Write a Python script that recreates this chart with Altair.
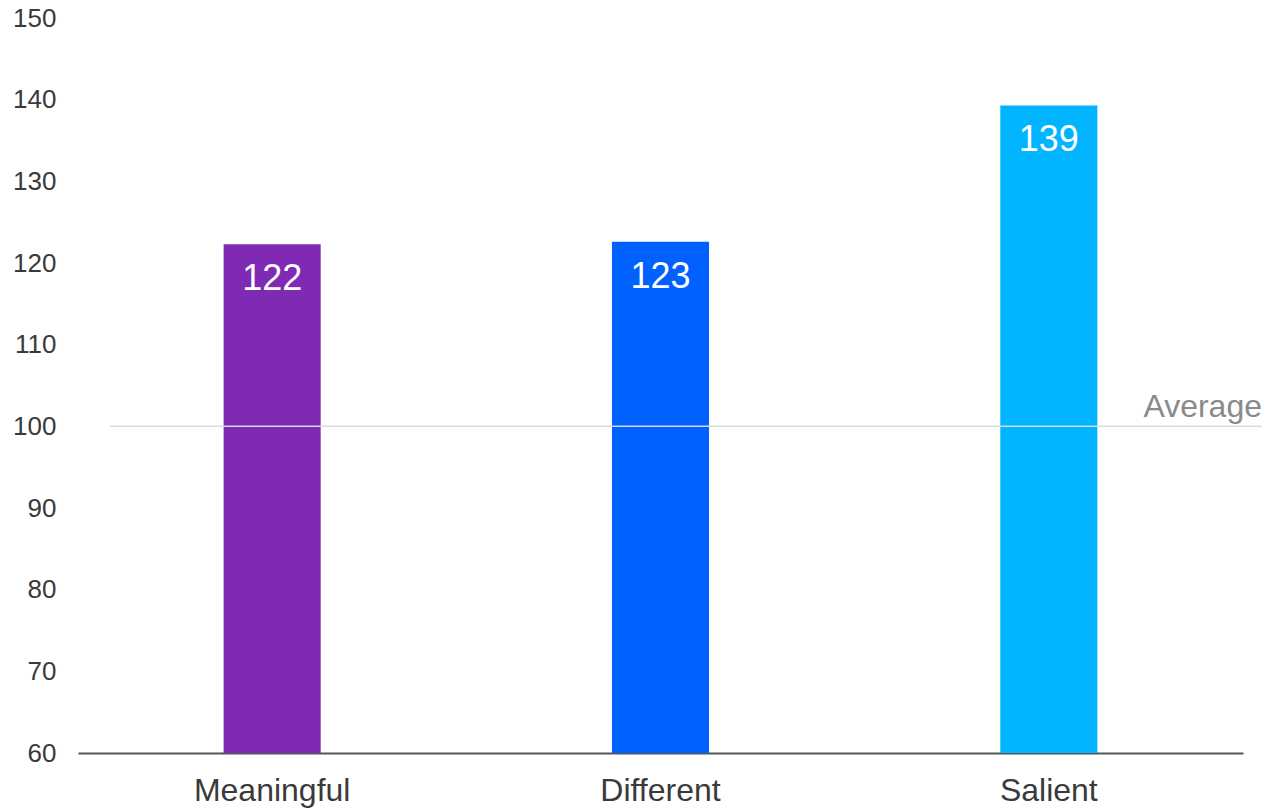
import altair as alt
import pandas as pd

categories = ["Meaningful", "Different", "Salient"]
values = [122.3, 122.6, 139.3]
colors = ["#7F2AB4", "#0061FF", "#00B4FF"]
average_value = 100
average_label = "Average"

df = pd.DataFrame({"cat": categories, "val": values, "color": colors})
FONT = "Liberation Sans"

x_enc = alt.X(
    "cat:N",
    sort=categories,
    scale=alt.Scale(paddingInner=0.75, paddingOuter=0.375),
    axis=alt.Axis(
        title=None, labelAngle=0, labelFont=FONT, labelFontSize=32,
        labelColor="#3a3a3a", labelPadding=22, ticks=False,
        domainColor="#555555", domainWidth=2,
    ),
)
y_enc = alt.Y(
    "val:Q",
    scale=alt.Scale(domain=[60, 150], nice=False, zero=False),
    axis=alt.Axis(
        title=None, values=list(range(60, 151, 10)), labelFont=FONT,
        labelFontSize=26, labelColor="#3a3a3a", labelPadding=22,
        ticks=False, domain=False, grid=False,
    ),
)

bars = alt.Chart(df).mark_bar(clip=True).encode(
    x=x_enc,
    y=y_enc,
    y2=alt.datum(60),
    color=alt.Color("color:N", scale=None),
)

labels = alt.Chart(df).mark_text(
    font=FONT, fontSize=36, color="white", baseline="middle", dy=35
).encode(
    x=alt.X("cat:N", sort=categories),
    y="val:Q",
    text=alt.Text("val:Q", format=".0f"),
)

avg_df = pd.DataFrame({"v": [average_value], "t": [average_label]})
rule = alt.Chart(avg_df).mark_rule(color="#d9d9d9", strokeWidth=1.5).encode(
    y="v:Q", x=alt.value(32), x2=alt.value(1184)
)
avg_text = alt.Chart(avg_df).mark_text(
    font=FONT, fontSize=32, color="#8a8a8a", align="right",
    baseline="alphabetic", dy=-9
).encode(y="v:Q", x=alt.value(1184), text="t:N")

chart = alt.layer(bars, labels, rule, avg_text).properties(
    width=1165, height=735,
    autosize=alt.AutoSizeParams(type="none"),
    padding={"left": 78, "top": 18, "right": 23, "bottom": 57},
).configure_view(stroke=None)

chart.save("out.html", embed_options={"renderer": "svg", "actions": False})
